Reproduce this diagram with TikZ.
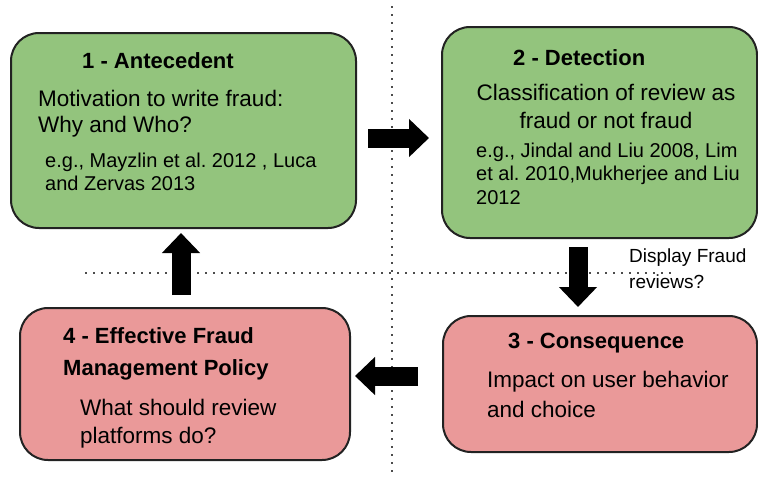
\documentclass[tikz,border=0pt]{standalone}
\usepackage{fontspec}
\setmainfont{Liberation Sans}
\frenchspacing
\usetikzlibrary{arrows.meta,positioning,calc}
\definecolor{verdec}{HTML}{93C47D}
\definecolor{rojoc}{HTML}{EA9999}
\definecolor{borde}{HTML}{222222}
\tikzset{
  etapa/.style={draw=borde, line width=2pt, rounded corners=28pt, inner sep=0pt},
  titulo/.style={font=\fontsize{22}{#1}\selectfont\bfseries, anchor=base west, align=left, inner sep=0pt},
  titulo/.default=31,
  cuerpo/.style={font=\fontsize{22.5}{#1}\selectfont, anchor=base west, align=left, inner sep=0pt},
  cuerpo/.default=27,
  cita/.style={font=\fontsize{20}{#1}\selectfont, anchor=base west, align=left, inner sep=0pt},
  cita/.default=23.5,
  nota/.style={font=\fontsize{19}{26}\selectfont, anchor=base west, align=left, inner sep=0pt},
  gorda/.style={line width=19pt, -{Triangle[length=20pt,width=37pt]}},
  punteada/.style={line width=1.6pt, dash pattern=on 1.6pt off 6.4pt, black!70},
}

\begin{document}
\begin{tikzpicture}[x=1pt, y=-1pt]
  \useasboundingbox (0,0) rectangle (758,479);
  % quadrant guides
  \draw[punteada] (392,6) -- (392,477);
  \draw[punteada] (85,273) -- (672,273);
  % the four stages
  \node[etapa, fill=verdec, minimum width=345pt, minimum height=195pt] (b1) at (183.5,130.5) {};
  \node[etapa, fill=verdec, minimum width=315pt, minimum height=211pt] (b2) at (599.5,132.5) {};
  \node[etapa, fill=rojoc, minimum width=314pt, minimum height=136pt] (b3) at (600,384) {};
  \node[etapa, fill=rojoc, minimum width=330pt, minimum height=152pt] (b4) at (185,384) {};
  % stage 1 (multi-line texts sit on their last baseline)
  \node[titulo] (t1) at (82,68) {1 - Antecedent};
  \node[cuerpo=26] (c1) at (38,132) {Motivation to write fraud:\\ Why and Who?};
  \node[cita=23] (r1) at (45,190) {e.g., Mayzlin et al. 2012 , Luca\\ and Zervas 2013};
  % stage 2
  \node[titulo] (t2) at (513,65) {2 - Detection};
  \node[cuerpo=28, anchor=base, align=center] (c2) at (606,128) {Classification of review as\\ fraud or not fraud};
  \node[cita] (r2) at (476,204) {e.g., Jindal and Liu 2008, Lim\\ et al. 2010,Mukherjee and Liu\\ 2012};
  % stage 3
  \node[titulo] (t3) at (508,348) {3 - Consequence};
  \node[cuerpo=30] (c3) at (487,417) {Impact on user behavior\\ and choice};
  % stage 4
  \node[titulo=32] (t4) at (63,375) {4 - Effective Fraud\\ Management Policy};
  \node[cuerpo=28] (c4) at (80,443) {What should review\\ platforms do?};
  \node[nota] (n23) at (629,288) {Display Fraud\\ reviews?};
  % cycle arrows
  \draw[gorda, shorten <=11pt, shorten >=12pt] ([yshift=-7.5pt]b1.east) -- ([yshift=-5.5pt]b2.west);
  \draw[gorda, shorten <=8pt, shorten >=8pt] ([xshift=-21.5pt]b2.south) -- ([xshift=-22pt]b3.north);
  \draw[gorda, shorten <=24pt, shorten >=4pt] ([yshift=8pt]b3.west) -- ([yshift=8pt]b4.east);
  \draw[gorda, shorten <=12pt, shorten >=4pt] ([xshift=-4pt]b4.north) -- ([xshift=-2.5pt]b1.south);
\end{tikzpicture}
\end{document}
